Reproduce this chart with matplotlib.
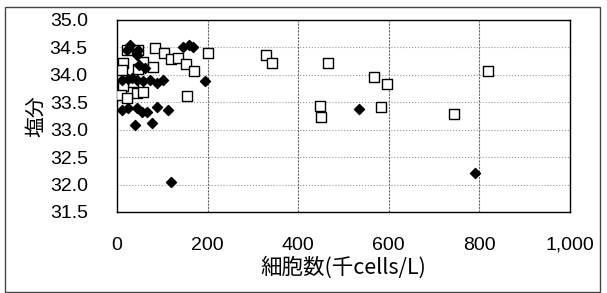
import numpy as np
import matplotlib
matplotlib.use('Agg')
import matplotlib.pyplot as plt
from matplotlib.ticker import FuncFormatter, MultipleLocator
from matplotlib.patches import Rectangle

plt.rcParams['font.family'] = ['Liberation Sans', 'Noto Sans CJK JP', 'DejaVu Sans']

# filled diamonds
dia_x = [29, 22, 46, 44, 49, 62, 146, 159, 168, 194,
         11, 24, 33, 44, 57, 73, 88, 102,
         11, 24, 44, 55, 66, 88, 113,
         40, 77, 119, 535, 791]
dia_y = [34.55, 34.45, 34.45, 34.36, 34.18, 34.13, 34.51, 34.55, 34.51, 33.89,
         33.91, 33.93, 33.95, 33.91, 33.89, 33.91, 33.85, 33.91,
         33.36, 33.40, 33.40, 33.33, 33.33, 33.42, 33.36,
         33.09, 33.13, 32.04, 33.38, 32.22]

# open squares
sq_x = [22, 13, 11, 46, 57, 46, 80, 84, 104, 119, 135, 152, 170,
        35, 13, 44, 57, 9, 22, 155, 201, 329, 343, 466, 568, 597,
        449, 451, 583, 745, 818]
sq_y = [34.45, 34.22, 34.09, 34.45, 34.24, 34.11, 34.15, 34.49, 34.40, 34.29,
        34.31, 34.20, 34.07, 33.87, 33.80, 33.67, 33.69, 33.64, 33.58, 33.62,
        34.40, 34.36, 34.22, 34.22, 33.96, 33.84, 33.44, 33.24, 33.42, 33.29,
        34.07]

fig = plt.figure(figsize=(6.07, 2.93), dpi=100)
ax = fig.add_axes([117 / 607, 81 / 293, 453 / 607, 192 / 293])

ax.scatter(sq_x, sq_y, marker='s', s=42, facecolors='white',
           edgecolors='black', linewidths=1.0, zorder=3)
ax.scatter(dia_x, dia_y, marker='D', s=26, color='black', zorder=4)

ax.set_xlim(0, 1000)
ax.set_ylim(31.5, 35.0)
ax.xaxis.set_major_locator(MultipleLocator(200))
ax.yaxis.set_major_locator(MultipleLocator(0.5))
ax.xaxis.set_major_formatter(FuncFormatter(lambda v, p: f'{v:,.0f}'))
ax.yaxis.set_major_formatter(FuncFormatter(lambda v, p: f'{v:.1f}'))
ax.tick_params(axis='x', length=0, pad=18, labelsize=14)
ax.tick_params(axis='y', length=0, pad=21, labelsize=14)

ax.grid(axis='y', linestyle=':', color='#999999', lw=0.8)
ax.grid(axis='x', linestyle=(0, (2, 1)), color='#666666', lw=0.8)
for s in ax.spines.values():
    s.set_color('black')
    s.set_linewidth(1.0)

ax.set_xlabel('細胞数(千cells/L)', family=['Noto Sans CJK JP', 'DejaVu Sans'],
              fontsize=15.5, labelpad=2)
ax.set_ylabel('塩分', family=['Noto Sans CJK JP', 'DejaVu Sans'],
              fontsize=15, labelpad=2)

# outer frame of the chart area
fig.patches.append(Rectangle((5 / 607, 1 / 293), 595 / 607, 285 / 293,
                             transform=fig.transFigure, fill=False,
                             edgecolor='#444444', lw=1.0))

fig.savefig('out.png', dpi=100)
